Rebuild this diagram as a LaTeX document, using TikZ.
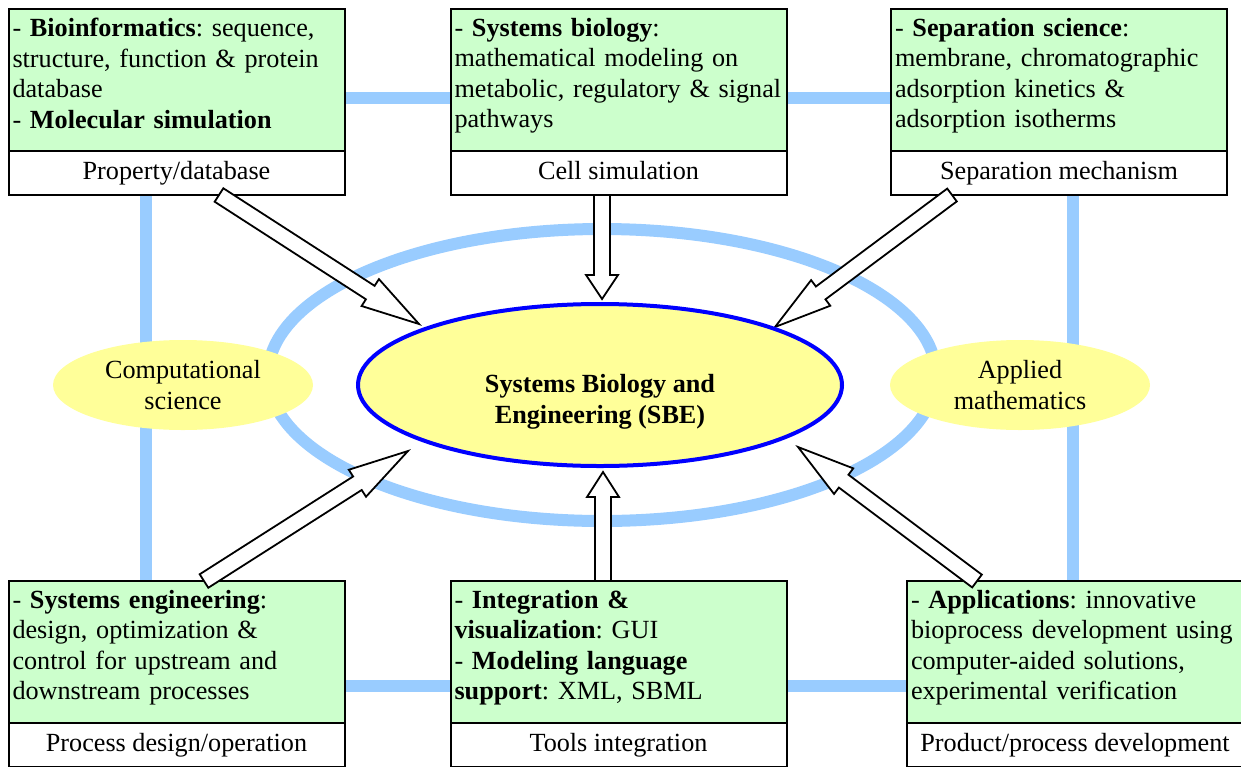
\documentclass[tikz,border=0pt]{standalone}
\usepackage{fontspec}
\setmainfont{Liberation Serif}
\usetikzlibrary{positioning,calc,shapes.geometric}

\definecolor{boxgreen}{HTML}{CCFFCC}
\definecolor{ovalyellow}{HTML}{FFFF99}
\definecolor{linkblue}{HTML}{99CCFF}

\newcommand{\shaft}{4pt}
\newcommand{\head}{8pt}
\newcommand{\boxtext}[1]{\parbox[t][62pt][t]{164pt}{\raggedright\spaceskip=.3333em\relax #1}}
\newcommand{\blockarrow}[3]{%
  \coordinate (hb) at ($(#3)!#1!(#2)$);
  \draw [blockarrow] ($(#2)!\shaft!90:(#3)$) -- ($(hb)!\shaft!90:(#3)$)
    -- ($(hb)!\head!90:(#3)$) -- (#3) -- ($(hb)!\head!-90:(#3)$)
    -- ($(hb)!\shaft!-90:(#3)$) -- ($(#2)!\shaft!-90:(#3)$) -- cycle;}

\begin{document}
\frenchspacing
\begin{tikzpicture}[x=0.5pt, y=-0.5pt, font=\fontsize{13.1}{15.3}\selectfont,
  greenbox/.style={draw, line width=1pt, fill=boxgreen, inner xsep=2pt, inner ysep=0pt,
    minimum width=168pt, minimum height=71pt, outer sep=0pt},
  labelbox/.style={draw, line width=1pt, fill=white, minimum width=168pt,
    minimum height=22pt, inner sep=0pt, outer sep=0pt, text height=9pt, text depth=3pt},
  oval/.style={ellipse, fill=ovalyellow, inner sep=0pt, align=center},
  link/.style={linkblue, line width=6pt},
  blockarrow/.style={draw, fill=white, line width=0.9pt, line join=miter}]
  \path [use as bounding box, fill=white] (0,0) rectangle (1241,766);

  \coordinate (NW) at (146,98);
  \coordinate (SE) at (1073,686);
  \draw [link] (NW) rectangle (SE);
  \draw [link] (602,375) ellipse [x radius=167pt, y radius=73pt];

  \node [greenbox] (bioinf) at (176.5,80)
    {\boxtext{- \textbf{Bioinformatics}: sequence,\\structure, function \& protein\\database\\- \textbf{Molecular simulation}}};
  \node [labelbox, below=0pt of bioinf] (propdb) {Property/database};

  \node [greenbox] (sysbio) at (618.5,80)
    {\boxtext{- \textbf{Systems biology}:\\mathematical modeling on\\metabolic, regulatory \& signal\\pathways}};
  \node [labelbox, below=0pt of sysbio] (cellsim) {Cell simulation};

  \node [greenbox] (sepsci) at (1059,80)
    {\boxtext{- \textbf{Separation science}:\\membrane, chromatographic\\adsorption kinetics \&\\adsorption isotherms}};
  \node [labelbox, below=0pt of sepsci] (sepmech) {Separation mechanism};

  \node [greenbox] (syseng) at (176.5,652)
    {\boxtext{- \textbf{Systems engineering}:\\design, optimization \&\\control for upstream and\\downstream processes}};
  \node [labelbox, below=0pt of syseng] (procdes) {Process design/operation};

  \node [greenbox] (integ) at (618.5,652)
    {\boxtext{- \textbf{Integration \&}\\\textbf{visualization}: GUI\\- \textbf{Modeling language}\\\textbf{support}: XML, SBML}};
  \node [labelbox, below=0pt of integ] (tools) {Tools integration};

  \node [greenbox] (appl) at (1075,652)
    {\boxtext{- \textbf{Applications}: innovative\\bioprocess development using\\computer-aided solutions,\\experimental verification}};
  \node [labelbox, below=0pt of appl] (proddev) {Product/process development};

  \coordinate (T1) at (219,0 |- propdb.south);
  \coordinate (T2) at (602,0 |- cellsim.south);
  \coordinate (T3) at (952,0 |- sepmech.south);
  \coordinate (T4) at (204,0 |- syseng.north);
  \coordinate (T5) at (603,0 |- integ.north);
  \coordinate (T6) at (977,0 |- appl.north);
  \coordinate (P1) at (419,324);
  \coordinate (P2) at (602,299);
  \coordinate (P3) at (775,327);
  \coordinate (P4) at (408,451);
  \coordinate (P5) at (603,472);
  \coordinate (P6) at (798,447);

  \blockarrow{29pt}{T1}{P1}
  \blockarrow{12pt}{T2}{P2}
  \blockarrow{28.5pt}{T3}{P3}
  \blockarrow{30pt}{T4}{P4}
  \blockarrow{12.5pt}{T5}{P5}
  \blockarrow{28.5pt}{T6}{P6}

  \node [oval, draw=blue, line width=2pt, minimum width=242pt, minimum height=81pt] (sbe) at (600,385) {};
  \node [font=\fontsize{13.1}{15.3}\selectfont\bfseries, align=center] (sbetext) at (600,402)
    {Systems Biology and\\Engineering (SBE)};
  \node [oval, minimum width=130pt, minimum height=45pt] (compsci) at (183,385) {Computational\\science};
  \node [oval, minimum width=130pt, minimum height=45pt] (applmath) at (1020,385) {Applied\\mathematics};
\end{tikzpicture}
\end{document}
